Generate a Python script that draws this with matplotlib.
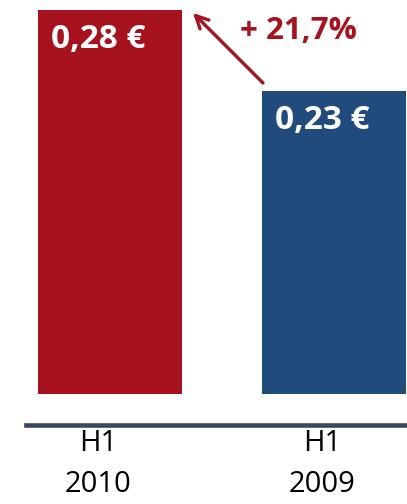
import matplotlib
matplotlib.use('Agg')
import matplotlib.pyplot as plt
import matplotlib.transforms as mtransforms

# data
periods = ["H1\n2010", "H1\n2009"]
values = [0.28, 0.23]
value_labels = ["0,28 €", "0,23 €"]
change_label = "+ 21,7%"

colors = ["#A6121D", "#214A7D"]
red = "#A6121D"

plt.rcParams['font.family'] = ['Open Sans', 'DejaVu Sans']

W, H = 407, 504
fig = plt.figure(figsize=(W / 100, H / 100), dpi=100)

# axes covers only the bar area (bars end at y=394 px from top)
base_px = 394
ax = fig.add_axes([0, (H - base_px) / H, 1, base_px / H])

px_x = 224.0                 # pixels per x unit
px_y = 81.0 / (values[0] - values[1])   # pixels per y unit
x = [0, 1]
ax.bar(x, values, width=144 / px_x, color=colors, linewidth=0)
ax.set_xlim(-110 / px_x, (W - 110) / px_x)
ax.set_ylim(values[0] - (base_px - 10) / px_y, values[0] + 10 / px_y)

# value labels inside bars, left aligned
for xi, v, lab in zip(x, values, value_labels):
    off = mtransforms.offset_copy(ax.transData, fig=fig, x=-59, y=-29, units='dots')
    ax.text(xi, v, lab, transform=off, color='white', fontsize=24,
            fontweight='bold', ha='left', va='center')

# growth arrow and label (figure pixels, origin bottom-left)
ax.annotate("", xy=(193, H - 13), xytext=(263, H - 83),
            xycoords='figure pixels', textcoords='figure pixels',
            arrowprops=dict(arrowstyle='->,head_length=0.9,head_width=0.45',
                            color=red, lw=2.4, shrinkA=0, shrinkB=0))
fig.text(298 / W, 1 - 31 / H, change_label, color=red, fontsize=22.5,
         fontweight='bold', ha='center', va='center')

for s in ['top', 'right', 'left']:
    ax.spines[s].set_visible(False)
ax.spines['bottom'].set_position(('outward', 22))
ax.spines['bottom'].set_color('#36475E')
ax.spines['bottom'].set_linewidth(3.3)
ax.spines['bottom'].set_bounds(-84 / px_x, (W - 110) / px_x)
ax.set_yticks([])
ax.set_xticks([xi - 12 / px_x for xi in x])
ax.set_xticklabels(periods, fontsize=21, color='black', linespacing=1.55)
ax.tick_params(axis='x', length=0, pad=3)

fig.savefig('out.png', dpi=100)
